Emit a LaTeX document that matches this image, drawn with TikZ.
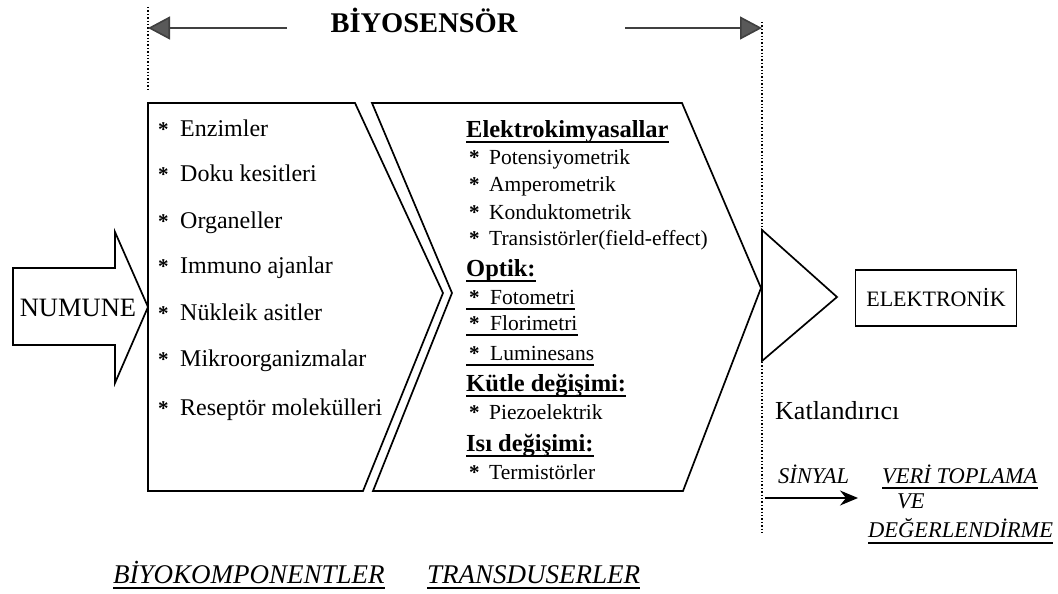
\documentclass[tikz,border=0pt]{standalone}
\usepackage{fontspec}
\setmainfont{Liberation Serif}
\usetikzlibrary{arrows.meta}
\begin{document}
\begin{tikzpicture}[x=1pt,y=-1pt,
  box/.style={draw=black,line width=1.7pt,line join=miter},
  guide/.style={draw=black,dotted,line width=1.4pt},
  item/.style={anchor=base west,inner sep=0pt,font=\fontsize{24}{28}\selectfont},
  star/.style={anchor=base west,inner sep=0pt,font=\fontsize{21}{24}\selectfont\bfseries},
  titem/.style={anchor=base west,inner sep=0pt,font=\fontsize{21.5}{25}\selectfont},
  thead/.style={anchor=base west,inner sep=0pt,font=\fontsize{24.5}{28}\selectfont\bfseries},
  itl/.style={anchor=base west,inner sep=0pt,font=\fontsize{22.5}{26}\selectfont\itshape},
  big/.style={anchor=base west,inner sep=0pt,font=\fontsize{27}{30}\selectfont\itshape},
  ul/.style={draw=black,line width=1.3pt},
  toparrow/.style={draw=black!75,line width=1.6pt,-{Triangle[length=22pt,width=23pt,fill=black!65]}},
  sigarrow/.style={draw=black,line width=1.5pt,-{Stealth[length=18pt,width=15pt,inset=6pt]}}
]
\useasboundingbox (0,0) rectangle (1058,594);

% guide lines
\coordinate (gl1) at (148,7);
\coordinate (gl2) at (148,90);
\coordinate (gr1) at (762,22);
\coordinate (gr2) at (762,533);
\draw[guide] (gl1) -- (gl2);
\draw[guide] (gr1) -- (gr2);

% title and arrows
\node[anchor=base,inner sep=0pt,font=\fontsize{28.5}{32}\selectfont\bfseries] (title) at (424,33) {BİYOSENSÖR};
\coordinate (la) at (287,28);
\coordinate (lb) at (148,28);
\coordinate (ra) at (625,28);
\coordinate (rb) at (762,28);
\draw[toparrow] (la) -- (lb);
\draw[toparrow] (ra) -- (rb);

% NUMUNE arrow
\draw[box] (13,268) -- (115,268) -- (115,232) -- (148,307) -- (115,383) -- (115,345) -- (13,345) -- cycle;
\node[inner sep=0pt,font=\fontsize{26.5}{30}\selectfont] (numune) at (78,308) {NUMUNE};

% biocomponent box
\draw[box] (148,103) -- (355,103) -- (443,293) -- (363,491) -- (148,491) -- cycle;
\foreach \y/\t [count=\i] in {136/Enzimler,181/Doku kesitleri,228/Organeller,273/Immuno ajanlar,320/Nükleik asitler,366/Mikroorganizmalar,415/Reseptör molekülleri}{
  \node[star] (ls\i) at (158,\y) {*};
  \node[item] (l\i) at (180,\y) {\t};
}

% transducer box
\draw[box] (372,103) -- (682,103) -- (761,288) -- (683,491) -- (373,491) -- (452,293) -- cycle;

\node[thead] (h1) at (466,137) {Elektrokimyasallar};
\draw[ul] ([yshift=-5pt]h1.base west) -- ([yshift=-5pt]h1.base east);
\foreach \y/\t [count=\i] in {164/Potensiyometrik,191/Amperometrik,219/Konduktometrik,245/Transistörler(field-effect)}{
  \node[star] (es\i) at (469,\y) {*};
  \node[titem] (e\i) at (489,\y) {\t};
}
\node[thead] (h2) at (466,276) {Optik:};
\draw[ul] ([yshift=-5pt]h2.base west) -- ([yshift=-5pt]h2.base east);
\foreach \y/\t [count=\i] in {304/Fotometri,330/Florimetri,360/Luminesans}{
  \node[star] (os\i) at (469,\y) {*};
  \node[titem] (o\i) at (490,\y) {\t};
  \draw[ul] ([xshift=-3pt,yshift=-5pt]os\i.base west) -- ([yshift=-5pt]o\i.base east);
}
\node[thead] (h3) at (466,391) {Kütle değişimi:};
\draw[ul] ([yshift=-5pt]h3.base west) -- ([yshift=-5pt]h3.base east);
\node[star] (ks1) at (469,419) {*};
\node[titem] (k1) at (489,419) {Piezoelektrik};
\node[thead] (h4) at (466,451) {Isı değişimi:};
\draw[ul] ([yshift=-5pt]h4.base west) -- ([yshift=-5pt]h4.base east);
\node[star] (is1) at (469,479) {*};
\node[titem] (i1) at (489,479) {Termistörler};

% amplifier
\draw[box] (762,230) -- (837,297) -- (762,361) -- cycle;
\node[draw=black,line width=1.5pt,minimum width=161pt,minimum height=56pt,inner sep=0pt,font=\fontsize{22}{26}\selectfont] (elek) at (936,298) {ELEKTRONİK};
\node[anchor=base west,inner sep=0pt,font=\fontsize{26}{30}\selectfont] (katl) at (775,419) {Katlandırıcı};

% signal
\node[itl] (sinyal) at (778,483) {SİNYAL};
\coordinate (sa) at (765,498);
\coordinate (sb) at (858,498);
\draw[sigarrow] (sa) -- (sb);
\node[itl] (veri) at (882,483) {VERİ TOPLAMA};
\draw[ul] ([yshift=-5pt]veri.base west) -- ([yshift=-5pt]veri.base east);
\node[itl] (ve) at (897,508) {VE};
\node[itl] (deger) at (868,537) {DEĞERLENDİRME};
\draw[ul] ([yshift=-6pt]deger.base west) -- ([yshift=-6pt]deger.base east);

% bottom labels
\node[big] (biyo) at (113,583) {BİYOKOMPONENTLER};
\draw[ul] ([yshift=-5pt]biyo.base west) -- ([yshift=-5pt]biyo.base east);
\node[big] (trans) at (427,583) {TRANSDUSERLER};
\draw[ul] ([yshift=-5pt]trans.base west) -- ([yshift=-5pt]trans.base east);
\end{tikzpicture}
\end{document}
